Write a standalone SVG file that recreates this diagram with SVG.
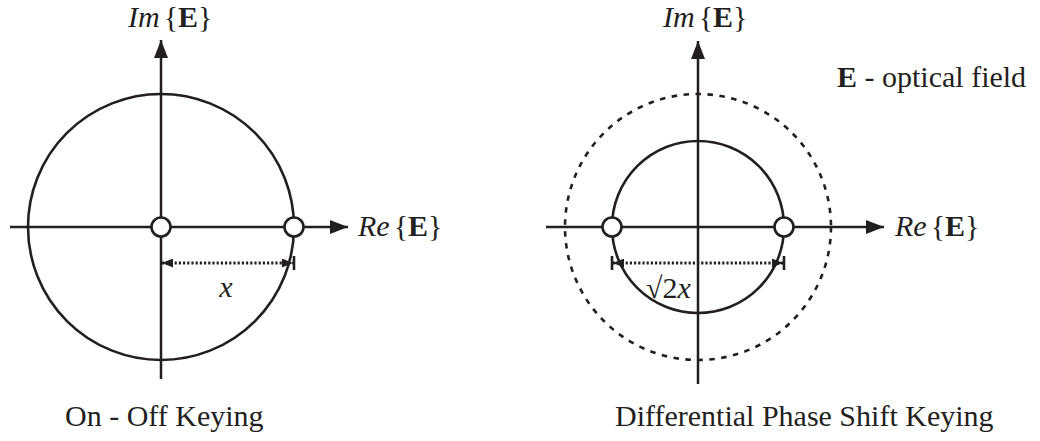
<svg xmlns="http://www.w3.org/2000/svg" width="1040" height="441" viewBox="0 0 1040 441">
<style>
.ax{stroke:#231f20;stroke-width:2.5;fill:none}
.c{stroke:#231f20;stroke-width:2.6;fill:none}
.dash{stroke:#231f20;stroke-width:2.6;fill:none;stroke-dasharray:5.5 6.5}
.pt{stroke:#231f20;stroke-width:2.6;fill:#fff}
.dim{stroke:#231f20;stroke-width:3;fill:none;stroke-dasharray:2.2 2}
.tick{stroke:#231f20;stroke-width:2.6}
.t{font-family:"Liberation Serif","Times New Roman",serif;font-size:30px;fill:#231f20}
.i{font-style:italic}
.b{font-weight:bold}
</style>
<defs>
<marker id="ah" viewBox="0 0 18 14" refX="18" refY="7" markerWidth="18" markerHeight="14" markerUnits="userSpaceOnUse" orient="auto">
<path d="M0,0 L18,7 L0,14 Z" fill="#231f20"/>
</marker>
<marker id="sh" viewBox="0 0 11 9" refX="11" refY="4.5" markerWidth="11" markerHeight="9" markerUnits="userSpaceOnUse" orient="auto">
<path d="M0,0 L11,4.5 L0,9 Z" fill="#231f20"/>
</marker>
<marker id="shs" viewBox="0 0 11 9" refX="0" refY="4.5" markerWidth="11" markerHeight="9" markerUnits="userSpaceOnUse" orient="auto">
<path d="M11,0 L0,4.5 L11,9 Z" fill="#231f20"/>
</marker>
</defs>
<g id="connectors">
<line class="ax" x1="10" y1="227" x2="348" y2="227" marker-end="url(#ah)"/>
<line class="ax" x1="161" y1="379" x2="161" y2="40" marker-end="url(#ah)"/>
<line class="ax" x1="546" y1="227" x2="884" y2="227" marker-end="url(#ah)"/>
<line class="ax" x1="698" y1="384" x2="698" y2="41" marker-end="url(#ah)"/>
<line class="dim" x1="162" y1="263" x2="293" y2="263" marker-start="url(#shs)" marker-end="url(#sh)"/>
<line class="tick" x1="294" y1="256" x2="294" y2="270"/>
<line class="dim" x1="613" y1="263" x2="783" y2="263" marker-start="url(#shs)" marker-end="url(#sh)"/>
<line class="tick" x1="612" y1="256" x2="612" y2="270"/>
<line class="tick" x1="784" y1="256" x2="784" y2="270"/>
</g>
<g id="ook-circle"><circle class="c" cx="161" cy="227" r="133"/></g>
<g id="dpsk-outer"><circle class="dash" cx="698" cy="227" r="133"/></g>
<g id="dpsk-inner"><circle class="c" cx="698" cy="227" r="86"/></g>
<g id="ook-p0"><circle class="pt" cx="161" cy="227" r="9.5"/></g>
<g id="ook-p1"><circle class="pt" cx="294" cy="227" r="9.5"/></g>
<g id="dpsk-p0"><circle class="pt" cx="612" cy="227" r="9.5"/></g>
<g id="dpsk-p1"><circle class="pt" cx="784" cy="227" r="9.5"/></g>
<g id="labels">
<text class="t" x="128" y="27"><tspan class="i">Im</tspan><tspan dx="4">{</tspan><tspan class="b">E</tspan><tspan>}</tspan></text>
<text class="t" x="663" y="27"><tspan class="i">Im</tspan><tspan dx="4">{</tspan><tspan class="b">E</tspan><tspan>}</tspan></text>
<text class="t" x="358" y="236"><tspan class="i">Re</tspan><tspan dx="4">{</tspan><tspan class="b">E</tspan><tspan>}</tspan></text>
<text class="t" x="895" y="236"><tspan class="i">Re</tspan><tspan dx="4">{</tspan><tspan class="b">E</tspan><tspan>}</tspan></text>
<text class="t" x="837" y="87"><tspan class="b">E</tspan> - optical field</text>
<text class="t i" x="226" y="297" text-anchor="middle">x</text>
<text class="t" x="646" y="298">√2<tspan class="i">x</tspan></text>
<text class="t" x="65" y="426">On - Off Keying</text>
<text class="t" x="615" y="426">Differential Phase Shift Keying</text>
</g>
</svg>
